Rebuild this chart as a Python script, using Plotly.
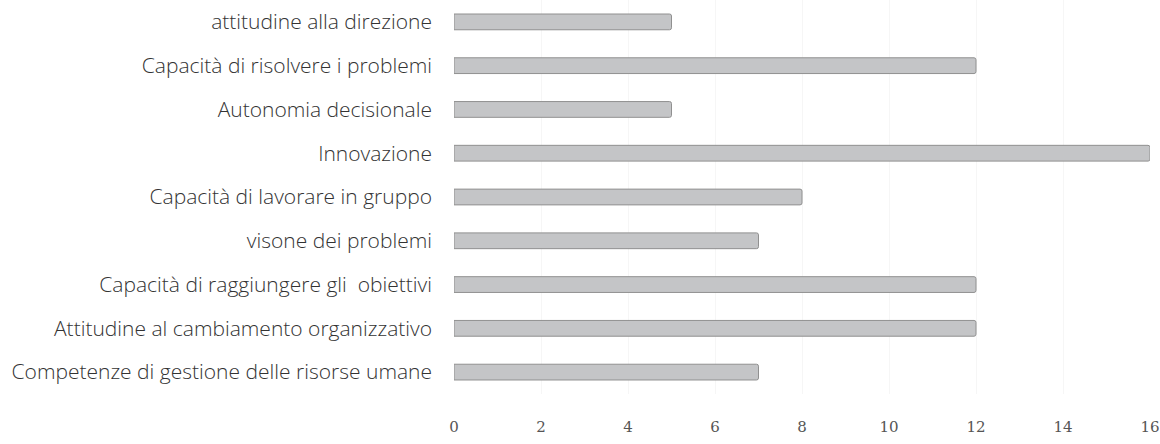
import plotly.graph_objects as go

# Competency categories (top to bottom) and their counts
categories = [
    "attitudine alla direzione",
    "Capacità di risolvere i problemi",
    "Autonomia decisionale",
    "Innovazione",
    "Capacità di lavorare in gruppo",
    "visone dei problemi",
    "Capacità di raggiungere gli  obiettivi",
    "Attitudine al cambiamento organizzativo",
    "Competenze di gestione delle risorse umane",
]
values = [5, 12, 5, 16, 8, 7, 12, 12, 7]
x_ticks = [0, 2, 4, 6, 8, 10, 12, 14, 16]

fig = go.Figure(
    go.Bar(
        x=values,
        y=categories,
        orientation="h",
        width=0.36,
        marker=dict(color="#c4c5c7", line=dict(color="#909090", width=1)),
    )
)

fig.update_layout(
    width=1160,
    height=444,
    margin=dict(l=454, r=10, t=0, b=50),
    paper_bgcolor="white",
    plot_bgcolor="white",
    showlegend=False,
    barcornerradius=2,
    font=dict(family="Open Sans, sans-serif", color="#333333"),
)

fig.update_xaxes(
    range=[0, 16.0],
    tickvals=x_ticks,
    showgrid=True,
    gridcolor="#f6f6f6",
    zeroline=False,
    showline=False,
    ticks="",
    ticklabelstandoff=22,
    tickfont=dict(family="DejaVu Serif, serif", size=15, color="#555555", weight=300),
)

fig.update_yaxes(
    autorange="reversed",
    showgrid=False,
    showline=False,
    ticks="",
    ticklabelstandoff=21,
    tickfont=dict(family="Open Sans, sans-serif", size=21, color="#333333", weight=300),
)

fig.write_html("out.html")
